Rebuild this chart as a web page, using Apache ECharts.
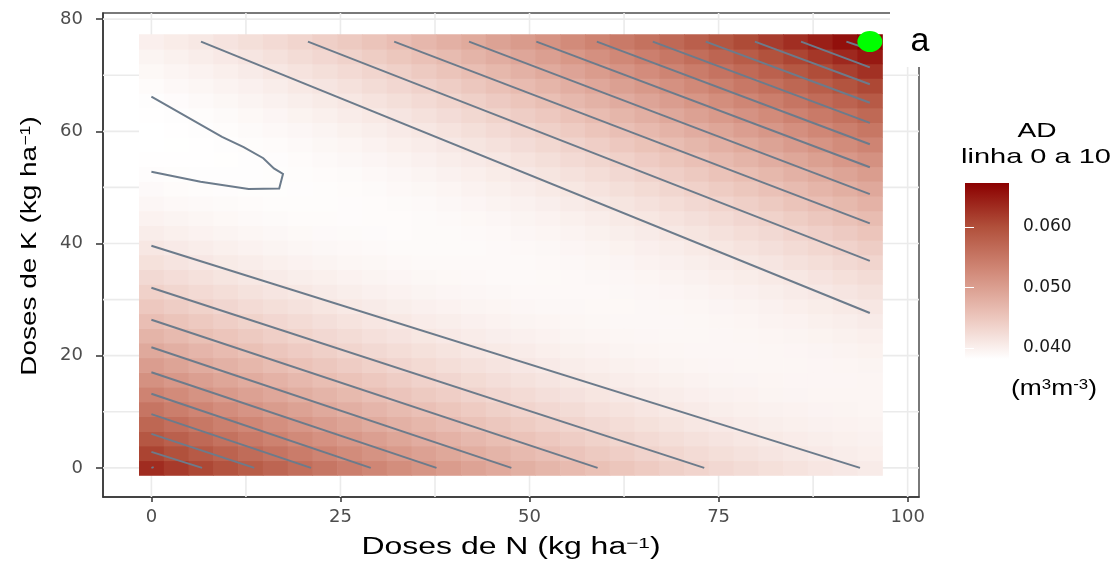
<!DOCTYPE html>
<html><head><meta charset="utf-8">
<script src="https://cdn.jsdelivr.net/npm/echarts@6/dist/echarts.min.js"></script>
<style>html,body{margin:0;padding:0;background:#fff}#c{width:1116px;height:567px}</style>
</head><body><div id="c"></div>
<script>
// ---- data ----
// grid of doses (30 x 30) on which the fitted surface is tabulated
const nDoses = [0, 3.28, 6.55, 9.83, 13.10, 16.38, 19.66, 22.93, 26.21, 29.48, 32.76, 36.03, 39.31, 42.59, 45.86, 49.14, 52.41, 55.69, 58.97, 62.24, 65.52, 68.79, 72.07, 75.34, 78.62, 81.90, 85.17, 88.45, 91.72, 95];
const kDoses = [0, 2.62, 5.24, 7.86, 10.48, 13.10, 15.72, 18.34, 20.97, 23.59, 26.21, 28.83, 31.45, 34.07, 36.69, 39.31, 41.93, 44.55, 47.17, 49.79, 52.41, 55.03, 57.66, 60.28, 62.90, 65.52, 68.14, 70.76, 73.38, 76];
// response surface AD(N,K): intercept, N, K, N^2, K^2, N*K  (estimated from the contour positions)
const adCoef = [0.06324, -0.0003925, -0.0008415, 0.000001625, 0.000007065, 0.0000068925];
// contour lines [N1, K1, N2, K2]
const lowerContours = [[0, 0, 0.3, 0.12], [0, 2.85, 6.7, 0], [0, 6.06, 13.6, 0], [0, 9.57, 21.1, 0], [0, 13.2, 29.0, 0], [0, 17.05, 37.7, 0], [0, 21.5, 47.6, 0], [0, 26.4, 59.0, 0], [0, 32.1, 73.1, 0], [0, 39.6, 93.7, 0]];
const upperContours = [[6.56, 76, 95, 27.6], [20.7, 76, 95, 36.9], [32.1, 76, 95, 43.6], [42.0, 76, 95, 48.8], [50.9, 76, 95, 53.6], [58.9, 76, 95, 57.7], [66.3, 76, 95, 61.5], [73.3, 76, 95, 65.1], [79.8, 76, 95, 68.4], [85.9, 76, 95, 71.4], [91.9, 76, 95, 74.6]];
const minimumContour = [[0, 66.2], [9.34, 59.0], [12.2, 57.2], [14.8, 55.2], [16.2, 53.4], [17.4, 52.4], [16.9, 49.8], [12.85, 49.7], [6.5, 51.0], [0, 52.8]];
const bestPoint = [95, 76];
const xTicks = [0, 25, 50, 75, 100];
const yTicks = [0, 20, 40, 60, 80];
const xMinor = [12.5, 37.5, 62.5, 87.5];
const yMinor = [10, 30, 50, 70];
const legendTicks = [0.040, 0.050, 0.060];

// ---- build ----
const ramp = ['#FFFFFF', '#EBC3B9', '#D18978', '#B1503B', '#8B0000'];
const dN = nDoses[1] - nDoses[0], dK = kDoses[1] - kDoses[0];
function adAt(n, k) {
  const c = adCoef;
  return c[0] + c[1] * n + c[2] * k + c[3] * n * n + c[4] * k * k + c[5] * n * k;
}
const cells = [];
nDoses.forEach(n => kDoses.forEach(k => cells.push([n, k, adAt(n, k)])));
let vmin = Infinity, vmax = -Infinity;
cells.forEach(c => { vmin = Math.min(vmin, c[2]); vmax = Math.max(vmax, c[2]); });

const contourData = lowerContours.concat(upperContours).map(s => ({ coords: [[s[0], s[1]], [s[2], s[3]]] }));
contourData.push({ coords: minimumContour });

const X0 = -6.4, X1 = 101.5, Y0 = -5.2, Y1 = 81.1;
const FONT = 'Liberation Sans, Arial, sans-serif';

const chart = echarts.init(document.getElementById('c'), null, { renderer: 'canvas' });
chart.setOption({
  animation: false,
  backgroundColor: '#fff',
  grid: [
    { left: 103, top: 13, width: 816, height: 484, show: true, borderColor: '#4d4d4d', borderWidth: 1.5, backgroundColor: '#fff' },
    { left: 965, top: 183, width: 44, height: 176, show: false }
  ],
  xAxis: [
    { gridIndex: 0, type: 'value', min: X0, max: X1,
      axisLine: { show: true, onZero: false, lineStyle: { color: '#333', width: 1.5 } },
      axisTick: { show: true, customValues: xTicks, length: 5, lineStyle: { color: '#333', width: 1.5 } },
      axisLabel: { customValues: xTicks, color: '#4D4D4D', fontSize: 18, fontFamily: 'DejaVu Sans', margin: 11 },
      splitLine: { show: false } },
    { gridIndex: 1, type: 'value', min: 0, max: 1, show: false }
  ],
  yAxis: [
    { gridIndex: 0, type: 'value', min: Y0, max: Y1,
      axisLine: { show: true, onZero: false, lineStyle: { color: '#333', width: 1.5 } },
      axisTick: { show: true, customValues: yTicks, length: 7, lineStyle: { color: '#333', width: 1.5 } },
      axisLabel: { customValues: yTicks, color: '#4D4D4D', fontSize: 18, fontFamily: 'DejaVu Sans', margin: 20 },
      splitLine: { show: false } },
    { gridIndex: 1, type: 'value', min: vmin, max: vmax, position: 'right', z: 5,
      axisLine: { show: false },
      axisTick: { show: true, inside: true, customValues: legendTicks, length: 9, lineStyle: { color: '#fff', width: 1 } },
      axisLabel: { customValues: legendTicks, formatter: v => v.toFixed(3), color: '#1a1a1a', fontSize: 17, fontFamily: 'DejaVu Sans', margin: 14 },
      splitLine: { show: false } },
    { gridIndex: 1, type: 'value', min: vmin, max: vmax, position: 'left', z: 5,
      axisLine: { show: false },
      axisTick: { show: true, inside: true, customValues: legendTicks, length: 9, lineStyle: { color: '#fff', width: 1 } },
      axisLabel: { show: false },
      splitLine: { show: false } }
  ],
  visualMap: {
    type: 'continuous', show: false, seriesIndex: 2, dimension: 2, min: vmin, max: vmax,
    inRange: { color: ramp }
  },
  series: [
    { // vertical panel grid lines
      type: 'custom', xAxisIndex: 0, yAxisIndex: 0, silent: true, z: 1, clip: true,
      data: xTicks.concat(xMinor).map(v => [v, 0]),
      renderItem: (p, api) => {
        const a = api.coord([api.value(0), Y0]), b = api.coord([api.value(0), Y1]);
        return { type: 'line', shape: { x1: a[0], y1: a[1], x2: b[0], y2: b[1] }, style: { stroke: '#EBEBEB', lineWidth: 1.6 } };
      }
    },
    { // horizontal panel grid lines
      type: 'custom', xAxisIndex: 0, yAxisIndex: 0, silent: true, z: 1, clip: true,
      data: yTicks.concat(yMinor).map(v => [0, v]),
      renderItem: (p, api) => {
        const a = api.coord([X0, api.value(1)]), b = api.coord([X1, api.value(1)]);
        return { type: 'line', shape: { x1: a[0], y1: a[1], x2: b[0], y2: b[1] }, style: { stroke: '#EBEBEB', lineWidth: 1.6 } };
      }
    },
    { // heat map tiles
      type: 'custom', xAxisIndex: 0, yAxisIndex: 0, silent: true, z: 2,
      data: cells, encode: { x: 0, y: 1 },
      renderItem: (p, api) => {
        const n = api.value(0), k = api.value(1);
        const a = api.coord([n - dN / 2, k + dK / 2]), b = api.coord([n + dN / 2, k - dK / 2]);
        const col = api.visual('color');
        return { type: 'rect', shape: { x: a[0], y: a[1], width: b[0] - a[0] + 0.6, height: b[1] - a[1] + 0.6 }, style: { fill: col } };
      }
    },
    { // contour lines
      type: 'lines', coordinateSystem: 'cartesian2d', xAxisIndex: 0, yAxisIndex: 0, polyline: true, silent: true, z: 3,
      lineStyle: { color: '#6C7B8B', width: 2, opacity: 1 },
      data: contourData
    },
    { // highlighted point
      type: 'scatter', xAxisIndex: 0, yAxisIndex: 0, silent: true, z: 4,
      symbol: 'circle', symbolSize: [25, 21], itemStyle: { color: '#00FF00', opacity: 1 },
      data: [bestPoint]
    },
    { // colour bar
      type: 'custom', xAxisIndex: 1, yAxisIndex: 1, silent: true, z: 1,
      data: [[0, vmin]],
      renderItem: (p, api) => {
        const a = api.coord([0, vmax]), b = api.coord([1, vmin]);
        const stops = ramp.map((c, i) => ({ offset: 1 - i / (ramp.length - 1), color: c }));
        return { type: 'rect', shape: { x: a[0], y: a[1], width: b[0] - a[0], height: b[1] - a[1] },
          style: { fill: { type: 'linear', x: 0, y: 0, x2: 0, y2: 1, colorStops: stops.reverse() } } };
      }
    }
  ],
  graphic: [
    { type: 'rect', z: 100, shape: { x: 890, y: 0, width: 226, height: 67 }, style: { fill: '#fff' } },
    { type: 'text', z: 101, x: 920, y: 42, style: { text: 'a', fontSize: 34, fontFamily: FONT, fill: '#000', align: 'center', verticalAlign: 'middle' } },
    { type: 'text', z: 101, x: 511, y: 548, scaleX: 1.39,
      style: { text: '{a|Doses de N (kg ha}{s|\u22121}{a|)}', align: 'center', verticalAlign: 'middle', fill: '#000',
        rich: { a: { fontSize: 23, fontFamily: FONT, fill: '#000' }, s: { fontSize: 15, fontFamily: FONT, fill: '#000', verticalAlign: 'top' } } } },
    { type: 'text', z: 101, x: 30, y: 246, rotation: Math.PI / 2, scaleX: 1.27,
      style: { text: '{a|Doses de K (kg ha}{s|\u22121}{a|)}', align: 'center', verticalAlign: 'middle', fill: '#000',
        rich: { a: { fontSize: 22, fontFamily: FONT, fill: '#000' }, s: { fontSize: 14, fontFamily: FONT, fill: '#000', verticalAlign: 'top' } } } },
    { type: 'text', z: 101, x: 1037, y: 131, scaleX: 1.34, style: { text: 'AD', fontSize: 21, fontFamily: FONT, fill: '#000', align: 'center', verticalAlign: 'middle' } },
    { type: 'text', z: 101, x: 1036, y: 157, scaleX: 1.38, style: { text: 'linha 0 a 10', fontSize: 21, fontFamily: FONT, fill: '#000', align: 'center', verticalAlign: 'middle' } },
    { type: 'text', z: 101, x: 1054, y: 389, scaleX: 1.2,
      style: { text: '{a|(m}{s|3}{a|m}{s|-3}{a|)}', align: 'center', verticalAlign: 'middle', fill: '#000',
        rich: { a: { fontSize: 22, fontFamily: FONT, fill: '#000' }, s: { fontSize: 14, fontFamily: FONT, fill: '#000', verticalAlign: 'top' } } } }
  ]
});
</script></body></html>
